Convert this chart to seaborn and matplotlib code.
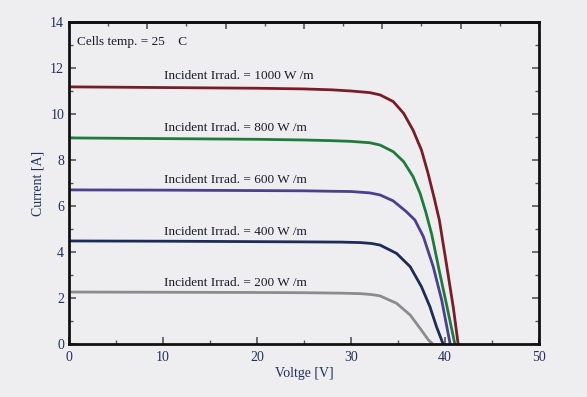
import numpy as np
import pandas as pd
import matplotlib
matplotlib.use("Agg")
import matplotlib.pyplot as plt
import seaborn as sns

# I-V curves (voltage in V, current in A)
v_1000 = [0, 10, 20, 25, 28, 30, 32, 33.1, 34.5, 35.6, 36.6, 37.5, 38.2, 38.85, 39.4, 40.2, 40.9, 41.4]
i_1000 = [11.18, 11.15, 11.12, 11.09, 11.05, 11.0, 10.93, 10.83, 10.54, 10.03, 9.3, 8.43, 7.42, 6.35, 5.39, 3.36, 1.55, 0]

v_800 = [0, 10, 20, 25, 28, 30, 32, 33.1, 34.5, 35.6, 36.6, 37.35, 37.95, 38.6, 39.3, 40.2, 41.05]
i_800 = [8.96, 8.93, 8.9, 8.87, 8.84, 8.81, 8.75, 8.65, 8.36, 7.93, 7.28, 6.55, 5.75, 4.75, 3.36, 1.65, 0]

v_600 = [0, 10, 20, 25, 28, 30, 32, 33.1, 34.5, 35.9, 36.8, 37.7, 38.75, 39.65, 40.55]
i_600 = [6.7, 6.69, 6.67, 6.66, 6.64, 6.63, 6.57, 6.48, 6.22, 5.75, 5.39, 4.67, 3.36, 1.91, 0]

v_400 = [0, 10, 20, 25, 29, 31, 32.2, 33.1, 34.85, 36.3, 37.5, 38.4, 39.1, 39.8]
i_400 = [4.48, 4.47, 4.45, 4.44, 4.43, 4.41, 4.37, 4.3, 3.94, 3.36, 2.49, 1.62, 0.75, 0]

v_200 = [0, 10, 20, 25, 29, 31, 32.2, 33.1, 34.85, 36.3, 37.35, 38.25, 38.7]
i_200 = [2.26, 2.25, 2.24, 2.23, 2.21, 2.19, 2.15, 2.09, 1.77, 1.26, 0.68, 0.17, 0]

irradiances = [1000, 800, 600, 400, 200]
label_currents = [11.65, 9.4, 7.13, 4.87, 2.65]
colors = ["#7a1c28", "#1f7a3c", "#4c3f8f", "#1d2c57", "#8c8c8c"]

curves = {1000: (v_1000, i_1000), 800: (v_800, i_800), 600: (v_600, i_600),
          400: (v_400, i_400), 200: (v_200, i_200)}
frames = []
for g, (v, i) in curves.items():
    frames.append(pd.DataFrame({"Voltage": v, "Current": i, "Irrad": g}))
df = pd.concat(frames, ignore_index=True)

bg = "#eeeef1"
sns.set_style("ticks")
plt.rcParams["font.family"] = ["Liberation Serif", "DejaVu Serif"]

fig = plt.figure(figsize=(5.87, 3.97), dpi=100, facecolor=bg)
ax = fig.add_axes([0.1175, 0.1335, 0.8007, 0.8111])
ax.set_facecolor(bg)

sns.lineplot(data=df, x="Voltage", y="Current", hue="Irrad", hue_order=irradiances,
             palette=colors, linewidth=2.0, sort=False, legend=False, ax=ax)

for g, y in zip(irradiances, label_currents):
    ax.text(10.1, y, f"Incident Irrad. = {g} W /m", fontsize=9.5, va="center",
            ha="left", color="#1a1a2a")
ax.text(0.85, 13.13, "Cells temp. = 25    C", fontsize=9.5, va="center", ha="left",
        color="#1a1a2a")

ax.set_xlim(0, 50)
ax.set_ylim(0, 14)
ax.set_xticks(np.arange(0, 51, 10))
ax.set_xticks(np.arange(5, 50, 10), minor=True)
ax.set_yticks(np.arange(0, 15, 2))
ax.set_yticks(np.arange(1, 14, 2), minor=True)
ax.tick_params(which="both", direction="in", colors="#555555", labelcolor="#22305a",
               labelsize=10, right=True)
ax.tick_params(which="major", length=5, width=1.2)
ax.tick_params(which="minor", length=3, width=1.0)
ax.tick_params(axis="x", pad=5)

# top axis has its own 12-interval ticks
top = ax.secondary_xaxis("top")
top.set_xticks(np.arange(0, 50.1, 50 / 6))
top.set_xticks(np.arange(50 / 12, 50, 50 / 6), minor=True)
top.tick_params(which="both", direction="in", colors="#555555", labeltop=False)
top.tick_params(which="major", length=5, width=1.2)
top.tick_params(which="minor", length=3, width=1.0)
top.spines["top"].set_linewidth(2.0)
top.spines["top"].set_color("#111111")
ax.tick_params(top=False)

for s in ax.spines.values():
    s.set_linewidth(2.0)
    s.set_color("#111111")

ax.set_xlabel("Voltge [V]", fontsize=10, color="#22305a", labelpad=2)
ax.set_ylabel("Current [A]", fontsize=10, color="#22305a", labelpad=4)

fig.savefig("out.png", dpi=100, facecolor=bg)
